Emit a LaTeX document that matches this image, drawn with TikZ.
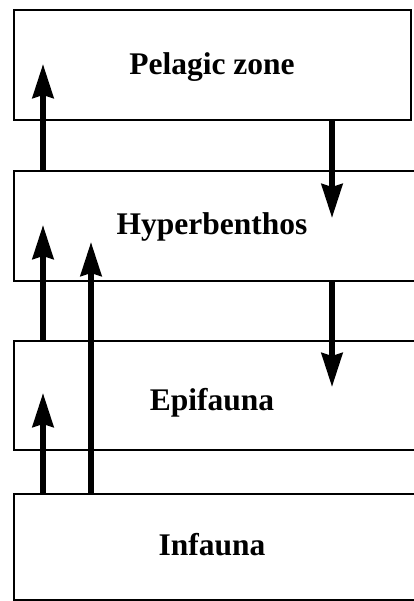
\documentclass[tikz,border=0pt]{standalone}
\usepackage{fontspec}
\setmainfont{Liberation Serif}
\usetikzlibrary{arrows.meta}
\begin{document}
\begin{tikzpicture}[x=1pt,y=-1pt,
  zone/.style={draw=black, line width=2.2pt, rectangle, inner sep=0pt, anchor=north west},
  zonelabel/.style={anchor=base, inner sep=0pt, font=\fontsize{31.5}{36}\selectfont\bfseries},
  flow/.style={line width=5.5pt, -{Stealth[length=34pt,width=21pt,inset=3pt]}}]
  \useasboundingbox (0,0) rectangle (414,601);
  \clip (0,0) rectangle (414,601);
  \fill[white] (0,0) rectangle (414,601);

  % stacked habitat layers
  \node[zone, minimum width=397pt, minimum height=110pt] (pel) at (13,9) {};
  \node[zone, minimum width=430pt, minimum height=110pt] (hyp) at (13,170) {};
  \node[zone, minimum width=430pt, minimum height=109pt] (epi) at (13,340) {};
  \node[zone, minimum width=430pt, minimum height=106pt] (inf) at (13,493) {};

  \node[zonelabel] (pelT) at (212,75) {Pelagic zone};
  \node[zonelabel] (hypT) at (212,234) {Hyperbenthos};
  \node[zonelabel] (epiT) at (212,410) {Epifauna};
  \node[zonelabel] (infT) at (212,555) {Infauna};

  % arrow columns and tip positions
  \coordinate (colA) at (43,0);
  \coordinate (colB) at (91,0);
  \coordinate (colC) at (332,0);
  \coordinate (t1) at (43,64);
  \coordinate (t2) at (332,218);
  \coordinate (t3) at (43,225);
  \coordinate (t4) at (91,242);
  \coordinate (t5) at (332,387);
  \coordinate (t6) at (43,393);

  % movements between layers
  \draw[flow] (colA |- hyp.north) -- (t1);
  \draw[flow] (colC |- pel.south) -- (t2);
  \draw[flow] (colA |- epi.north) -- (t3);
  \draw[flow] (colB |- inf.north) -- (t4);
  \draw[flow] (colC |- hyp.south) -- (t5);
  \draw[flow] (colA |- inf.north) -- (t6);
\end{tikzpicture}
\end{document}
